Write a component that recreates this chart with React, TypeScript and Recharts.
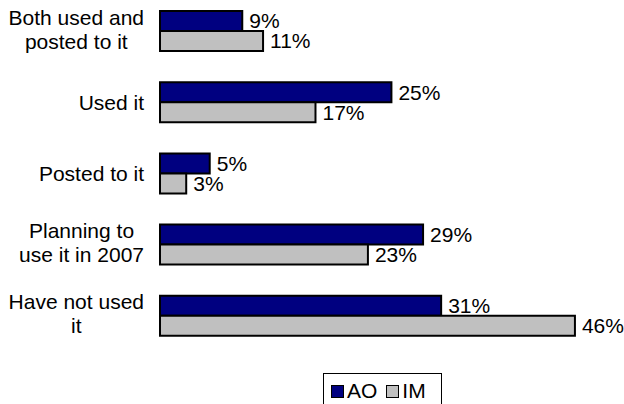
import React from "react";
import { BarChart, Bar, XAxis, YAxis, LabelList, Legend } from "recharts";

const categories = [
  "Both used and\nposted to it",
  "Used it",
  "Posted to it",
  "Planning to\nuse it in 2007",
  "Have not used\nit",
];
const aoValues = [9.1, 25.6, 5.5, 29.1, 31.1];
const imValues = [11.4, 17.2, 2.9, 23.0, 45.9];
const aoLabels = ["9%", "25%", "5%", "29%", "31%"];
const imLabels = ["11%", "17%", "3%", "23%", "46%"];
const seriesNames = ["AO", "IM"];
const seriesColors = ["#000080", "#C0C0C0"];

const data = categories.map((name, i) => ({
  name,
  AO: aoValues[i],
  IM: imValues[i],
  aoLabel: aoLabels[i],
  imLabel: imLabels[i],
}));

const FONT = "'Liberation Sans', Arial, sans-serif";
const FS = 21;

function measure(text: string): number {
  try {
    const c = document.createElement("canvas");
    const ctx = c.getContext("2d");
    if (ctx) {
      ctx.font = `${FS}px 'Liberation Sans'`;
      return ctx.measureText(text).width;
    }
  } catch (e) {}
  return text.length * FS * 0.5;
}

const CategoryTick = (props: any) => {
  const { y, payload } = props;
  const lines: string[] = String(payload.value).split("\n");
  const right = 144;
  if (lines.length === 1) {
    return (
      <text x={right} y={y + 8} textAnchor="end" fontSize={FS} fontFamily={FONT} fill="#000">
        {lines[0]}
      </text>
    );
  }
  const maxW = Math.max(...lines.map(measure));
  const cx = right - maxW / 2;
  return (
    <text x={cx} y={y - 6} textAnchor="middle" fontSize={FS} fontFamily={FONT} fill="#000">
      {lines.map((l, i) => (
        <tspan key={i} x={cx} dy={i === 0 ? 0 : 24}>
          {l}
        </tspan>
      ))}
    </text>
  );
};

const LegendContent = () => (
  <div
    style={{
      border: "1px solid #000",
      height: 44,
      width: 117,
      boxSizing: "content-box",
      display: "flex",
      alignItems: "flex-start",
      paddingTop: 5,
      fontFamily: FONT,
      fontSize: 21,
      background: "#fff",
    }}
  >
    {seriesNames.map((n, i) => (
      <div key={n} style={{ display: "flex", alignItems: "center", marginLeft: i === 0 ? 7 : 9 }}>
        <div
          style={{
            width: 11,
            height: 11,
            border: "1.5px solid #000",
            background: seriesColors[i],
            marginRight: 3,
          }}
        />
        <span style={{ lineHeight: "24px" }}>{n}</span>
      </div>
    ))}
  </div>
);

export default function App() {
  return (
    <div style={{ position: "absolute", left: 0, top: -5 }}>
      <BarChart
        width={624}
        height={409}
        data={data}
        layout="vertical"
        margin={{ top: 0, right: 12, left: 0, bottom: 53 }}
        barSize={20}
        barGap={0}
        style={{ fontFamily: FONT }}
      >
        <XAxis type="number" domain={[0, 50]} hide />
        <YAxis
          type="category"
          dataKey="name"
          width={160}
          axisLine={false}
          tickLine={false}
          interval={0}
          tick={<CategoryTick />}
        />
        <Legend
          layout="horizontal"
          verticalAlign="middle"
          align="center"
          wrapperStyle={{ left: 323, top: 378, width: "auto", height: "auto" }}
          content={<LegendContent />}
        />
        <Bar dataKey="AO" fill={seriesColors[0]} stroke="#000" strokeWidth={2} isAnimationActive={false}>
          <LabelList dataKey="aoLabel" position="right" offset={7} fontSize={FS} fill="#000" fontFamily={FONT} />
        </Bar>
        <Bar dataKey="IM" fill={seriesColors[1]} stroke="#000" strokeWidth={2} isAnimationActive={false}>
          <LabelList dataKey="imLabel" position="right" offset={7} fontSize={FS} fill="#000" fontFamily={FONT} />
        </Bar>
      </BarChart>
    </div>
  );
}
